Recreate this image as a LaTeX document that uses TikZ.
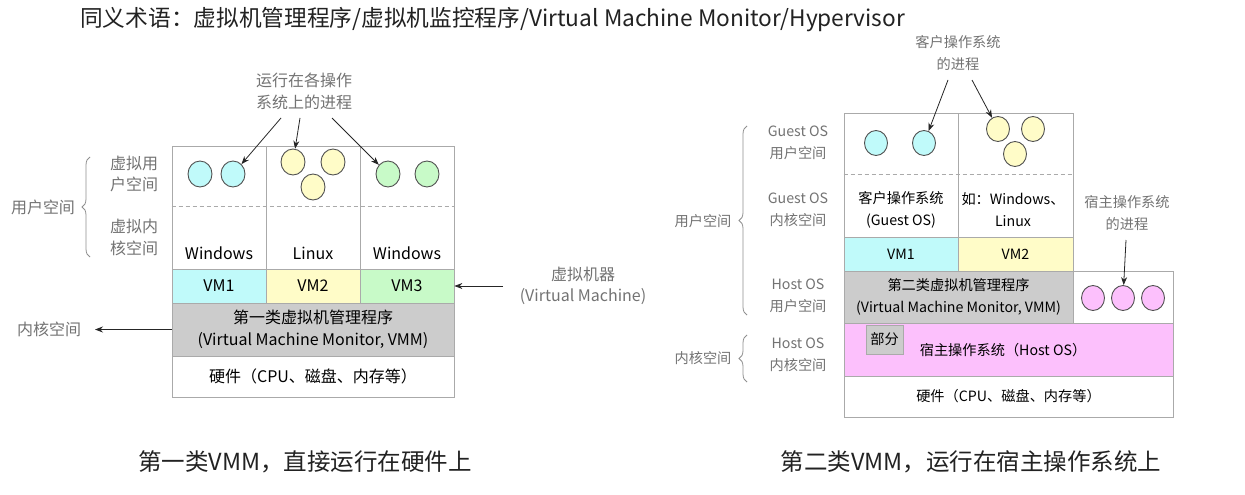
\documentclass[tikz,border=0pt]{standalone}
\usepackage{fontspec}
\setmainfont{Noto Sans CJK SC}
\usetikzlibrary{arrows.meta,decorations.pathreplacing,shapes.geometric}
\definecolor{cyanf}{RGB}{192,250,250}
\definecolor{yelf}{RGB}{255,252,200}
\definecolor{grnf}{RGB}{200,250,200}
\definecolor{grayf}{RGB}{204,204,204}
\definecolor{pinkf}{RGB}{252,192,252}
\definecolor{edgec}{RGB}{170,170,170}
\definecolor{lblc}{RGB}{115,115,115}
\definecolor{circc}{RGB}{80,80,80}
\definecolor{titlec}{RGB}{34,34,34}
\begin{document}
\begin{tikzpicture}[x=1pt,y=-1pt,
  cell/.style={draw=edgec, line width=0.8pt, inner sep=0, align=center, font=\fontsize{16}{21.5}\selectfont},
  txt/.style={font=\fontsize{16}{21.5}\selectfont, align=center, inner sep=0},
  lab/.style={txt, text=lblc},
  proc/.style={ellipse, draw=circc, line width=0.9pt, minimum width=24pt, minimum height=26pt, inner sep=0},
  arr/.style={-{Stealth[length=8pt,width=6pt]}, line width=0.8pt, draw=black!85},
  brc/.style={decorate, decoration={brace, amplitude=8pt}, draw=lblc!80, line width=0.8pt},
  dsh/.style={draw=edgec, line width=0.8pt, dash pattern=on 4pt off 3pt},
  big/.style={font=\fontsize{22.7}{26}\selectfont, text=titlec, inner sep=0},
  capt/.style={font=\fontsize{23.5}{27}\selectfont, text=titlec, inner sep=0}
]
\fill[white] (0,0) rectangle (1245,495);
\useasboundingbox (0,0) rectangle (1245,495);

% Title
\node[big, anchor=west] (title) at (80,20) {同义术语：虚拟机管理程序/虚拟机监控程序/Virtual Machine Monitor/Hypervisor};

% ================= Left diagram =================
\node[cell, minimum width=94pt, minimum height=123pt] (LU1) at (219,207.5) {};
\node[cell, minimum width=94pt, minimum height=123pt] (LU2) at (313,207.5) {};
\node[cell, minimum width=94pt, minimum height=123pt] (LU3) at (407,207.5) {};
\draw[dsh] (LU1.west |- 0,206) -- (LU3.east |- 0,206);
\node[txt] (w1) at (219,253) {Windows};
\node[txt] (w2) at (313,253) {Linux};
\node[txt] (w3) at (407,253) {Windows};

\node[proc, fill=cyanf] (lc1) at (200,174) {};
\node[proc, fill=cyanf] (lc2) at (233,174) {};
\node[proc, fill=yelf] (ly1) at (293,162) {};
\node[proc, fill=yelf] (ly2) at (333,162) {};
\node[proc, fill=yelf] (ly3) at (313,187) {};
\node[proc, fill=grnf] (lg1) at (388,174) {};
\node[proc, fill=grnf] (lg2) at (427,174) {};

\node[cell, fill=cyanf, minimum width=94pt, minimum height=34pt] (VM1) at (219,286) {VM1};
\node[cell, fill=yelf, minimum width=94pt, minimum height=34pt] (VM2) at (313,286) {VM2};
\node[cell, fill=grnf, minimum width=94pt, minimum height=34pt] (VM3) at (407,286) {VM3};
\node[cell, fill=grayf, minimum width=282pt, minimum height=53pt] (VMM) at (313,329.5) {第一类虚拟机管理程序\\(Virtual Machine Monitor, VMM)};
\node[cell, minimum width=282pt, minimum height=41pt] (HW) at (313,376.5) {硬件（CPU、磁盘、内存等）};

\node[lab] (lproc) at (304,91.5) {运行在各操作\\系统上的进程};
\coordinate (la1) at (281,118);
\coordinate (la2) at (300,118);
\coordinate (la3) at (332,118);
\draw[arr] (la1) -- (lc2);
\draw[arr] (la2) -- (ly1);
\draw[arr] (la3) -- (lg1);

\node[lab] (lvu) at (134,174) {虚拟用\\户空间};
\node[lab] (lvk) at (134,237.5) {虚拟内\\核空间};
\draw[brc] (90,257) -- (90,157);
\node[lab] (lus) at (43,207) {用户空间};
\node[lab] (lks) at (49,329) {内核空间};
\coordinate (lkx) at (95,329.5);
\draw[arr] (VMM.west) -- (lkx);

\node[lab] (lvm) at (583,286) {虚拟机器\\(Virtual Machine)};
\coordinate (lvx) at (503,286);
\draw[arr] (lvx) -- (VM3.east);

% ================= Right diagram =================
\begin{scope}[cell/.append style={font=\fontsize{14.2}{22}\selectfont},
              txt/.append style={font=\fontsize{14.2}{22}\selectfont}]
\node[cell, minimum width=114pt, minimum height=124pt] (RU1) at (901,175) {};
\node[cell, minimum width=115pt, minimum height=124pt] (RU2) at (1015.5,175) {};
\draw[dsh] (RU1.west |- 0,174) -- (RU2.east |- 0,174);

\node[proc, fill=cyanf, minimum width=23pt, minimum height=25pt] (rc1) at (876,143) {};
\node[proc, fill=cyanf, minimum width=23pt, minimum height=25pt] (rc2) at (924,143) {};
\node[proc, fill=yelf, minimum width=23pt, minimum height=25pt] (ry1) at (998,129) {};
\node[proc, fill=yelf, minimum width=23pt, minimum height=25pt] (ry2) at (1033,129) {};
\node[proc, fill=yelf, minimum width=23pt, minimum height=25pt] (ry3) at (1015,154) {};

\node[txt] (rg) at (901,210) {客户操作系统\\(Guest OS)};
\node[txt] (rw) at (1013,210) {如：Windows、\\Linux};

\node[cell, fill=cyanf, minimum width=114pt, minimum height=34pt] (RVM1) at (901,254) {VM1};
\node[cell, fill=yelf, minimum width=115pt, minimum height=34pt] (RVM2) at (1015.5,254) {VM2};
\node[cell, fill=grayf, minimum width=229pt, minimum height=52pt] (RVMM) at (958.5,297) {第二类虚拟机管理程序\\(Virtual Machine Monitor, VMM)};
\node[cell, minimum width=100pt, minimum height=52pt] (HP) at (1123,297) {};
\node[proc, fill=pinkf, minimum width=23pt, minimum height=25pt] (rp1) at (1093,298) {};
\node[proc, fill=pinkf, minimum width=23pt, minimum height=25pt] (rp2) at (1123,298) {};
\node[proc, fill=pinkf, minimum width=23pt, minimum height=25pt] (rp3) at (1153,298) {};

\node[cell, fill=pinkf, minimum width=329pt, minimum height=53pt] (HOS) at (1008.5,349.5) {};
\node[txt] (hostt) at (1003,350) {宿主操作系统（Host OS）};
\node[cell, fill=grayf, minimum width=37pt, minimum height=29pt] (part) at (884.5,339.5) {部分};
\node[cell, minimum width=329pt, minimum height=41pt] (RHW) at (1008.5,396.5) {硬件（CPU、磁盘、内存等）};

\node[lab] (rgu) at (798,143) {Guest OS\\用户空间};
\node[lab] (rgk) at (798,210) {Guest OS\\内核空间};
\node[lab] (rhu) at (798,296) {Host OS\\用户空间};
\node[lab] (rhk) at (798,355) {Host OS\\内核空间};
\draw[brc] (747,315) -- (747,126);
\node[lab] (rus) at (703,221) {用户空间};
\draw[brc] (747,382) -- (747,335);
\node[lab] (rks) at (703,358) {内核空间};

\node[lab] (rgp) at (958,53.5) {客户操作系统\\的进程};
\coordinate (ra1) at (948,80);
\coordinate (ra2) at (972,80);
\draw[arr] (ra1) -- (rc2);
\draw[arr] (ra2) -- (ry1);

\node[lab] (rhp) at (1127,213.5) {宿主操作系统\\的进程};
\coordinate (ra3) at (1126,240);
\draw[arr] (ra3) -- (rp2);
\end{scope}

% Captions
\node[capt] (cap1) at (305,462) {第一类VMM，直接运行在硬件上};
\node[capt] (cap2) at (971,462) {第二类VMM，运行在宿主操作系统上};
\end{tikzpicture}
\end{document}
